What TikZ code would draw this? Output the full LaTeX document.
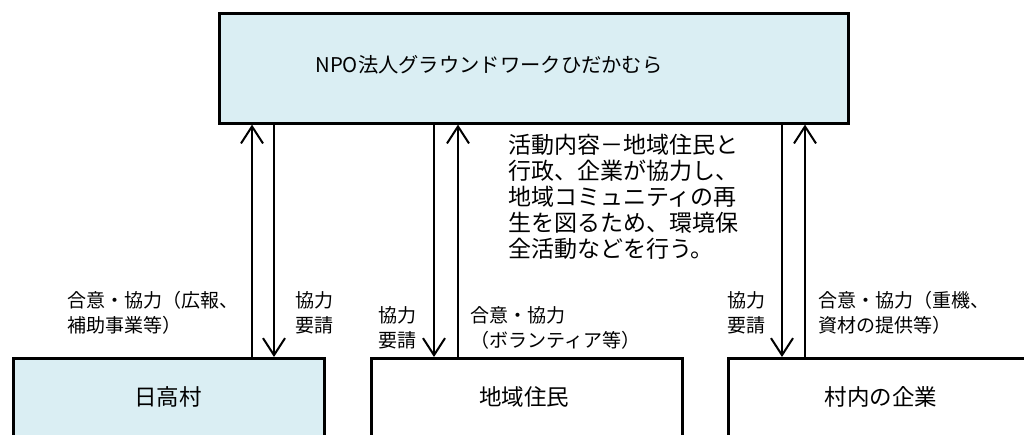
\documentclass[tikz,border=0pt]{standalone}
\usepackage{fontspec}
\setmainfont{Noto Sans CJK JP}
\usetikzlibrary{arrows.meta}
\definecolor{boxfill}{HTML}{DAEEF3}
\begin{document}
\begin{tikzpicture}[x=1pt,y=-1pt,
  boxline/.style={draw=black,line width=2.6pt,inner sep=0pt,anchor=north west},
  arr/.style={line width=2pt,-{Straight Barb[length=17pt,width=22pt,line width=2pt]}},
  lbl/.style={inner sep=0pt,anchor=west,align=left,font=\fontsize{19}{25}\selectfont},
  boxtxt/.style={inner sep=0pt,anchor=center,font=\fontsize{22.5}{27}\selectfont},
 ]
\useasboundingbox (0,0) rectangle (1024,435);
\clip (0,0) rectangle (1024,435);
% boxes
\node[boxline,fill=boxfill,minimum width=629pt,minimum height=110pt] (npo) at (218,12) {};
\node[boxline,fill=boxfill,minimum width=311pt,minimum height=110pt] (hidaka) at (12,357) {};
\node[boxline,fill=white,minimum width=311pt,minimum height=110pt] (jumin) at (370,357) {};
\node[boxline,fill=white,minimum width=311pt,minimum height=110pt] (kigyo) at (727,357) {};
% box texts
\node[inner sep=0pt,font=\fontsize{20.3}{24}\selectfont] (npotxt) at (489,65) {NPO法人グラウンドワークひだかむら};
\node[boxtxt] (hidakatxt) at (168,397) {日高村};
\node[boxtxt] (jumintxt) at (524,397) {地域住民};
\node[boxtxt] (kigyotxt) at (881,397) {村内の企業};
% arrow x positions
\coordinate (xa1) at (252,0);
\coordinate (xa2) at (274,0);
\coordinate (xb1) at (434,0);
\coordinate (xb2) at (458,0);
\coordinate (xc1) at (782,0);
\coordinate (xc2) at (805,0);
% arrows
\draw[arr] (xa1 |- hidaka.north) -- (xa1 |- npo.south);
\draw[arr] (xa2 |- npo.south) -- (xa2 |- hidaka.north);
\draw[arr] (xb1 |- npo.south) -- (xb1 |- jumin.north);
\draw[arr] (xb2 |- jumin.north) -- (xb2 |- npo.south);
\draw[arr] (xc1 |- npo.south) -- (xc1 |- kigyo.north);
\draw[arr] (xc2 |- kigyo.north) -- (xc2 |- npo.south);
% labels
\node[lbl] (l1) at (67,312.5) {合意・協力（広報、\\補助事業等）};
\node[lbl] (l2) at (295,312.5) {協力\\要請};
\node[lbl] (l3) at (378,327.5) {協力\\要請};
\node[lbl] (l4) at (470,327.5) {合意・協力\\（ボランティア等）};
\node[lbl] (l5) at (727,312.5) {協力\\要請};
\node[lbl] (l6) at (818,312.5) {合意・協力（重機、\\資材の提供等）};
\node[inner sep=0pt,anchor=west,align=left,font=\fontsize{23}{26}\selectfont] (act) at (508,197)
 {活動内容－地域住民と\\行政、企業が協力し、\\地域コミュニティの再\\生を図るため、環境保\\全活動などを行う。};
\end{tikzpicture}
\end{document}
